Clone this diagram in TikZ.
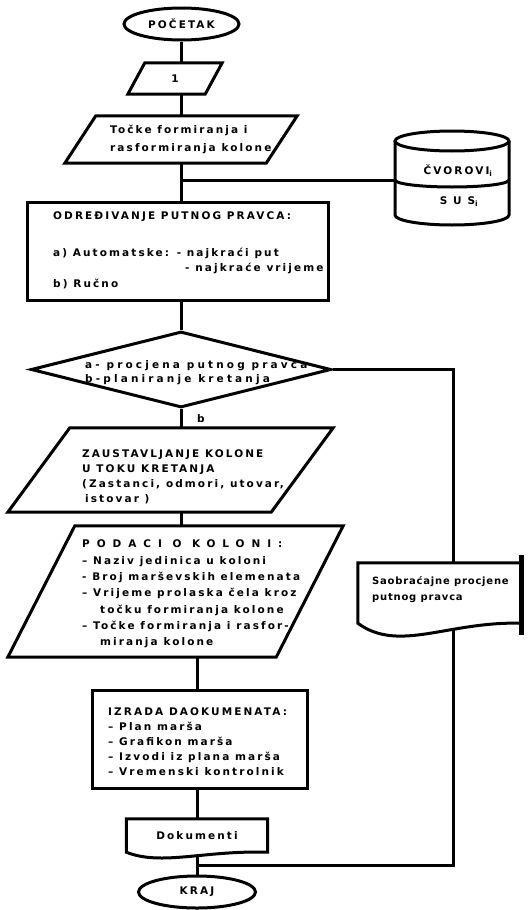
\documentclass[tikz,border=0pt]{standalone}
\usepackage{fontspec}
\setmainfont{DejaVu Sans}[LetterSpace=20]
\usetikzlibrary{shapes.geometric, backgrounds, calc}
\tikzset{every node/.style={font=\bfseries\fontsize{10.5}{15.5}\selectfont, inner sep=0pt}}
\tikzset{ %flowchart styles
    flowline/.style={line width=3pt},
    term/.style={ellipse, draw, line width=3pt, minimum height=32pt},
    proc/.style={rectangle, draw, line width=3pt},
    slot/.style={rectangle},
    decision/.style={diamond, draw, line width=3pt},
    txt/.style={anchor=west, align=left},
}
% parallelogram round node #1, slant #2
\newcommand{\ioframe}[2]{\draw[flowline] (#1.south west) -- ([xshift=#2pt]#1.north west) -- (#1.north east) -- ([xshift=-#2pt]#1.south east) -- cycle;}
% document round node #1, wave depth #2
\newcommand{\docframe}[2]{\filldraw[flowline, fill=white] (#1.south west) -- (#1.north west) -- (#1.north east) -- (#1.south east) .. controls ($(#1.south west)!0.55!(#1.south east)+(0,2pt)$) and ($(#1.south west)!0.25!(#1.south east)+(0,-#2pt)$) .. (#1.south west) -- cycle;}

\begin{document}
\begin{tikzpicture}[x=1pt, y=-1pt]
		\useasboundingbox (0,0) rectangle (529,910);
		\coordinate (axis) at (181,0);
		\coordinate (axisb) at (197,0);
		% main column
		\node[term, minimum width=115pt] (start) at (181.5,24) {POČETAK};
		\node[slot, minimum width=94pt, minimum height=31pt] (one) at (175,78.5) {1};
		\ioframe{one}{17}
		\node[slot, minimum width=232pt, minimum height=47pt] (tocke) at (181,139.5) {};
		\ioframe{tocke}{31}
		\node[txt, font=\bfseries\fontsize{10.5}{18.5}\selectfont] (tockeText) at (110,139.5) {Točke formiranja i\\rasformiranja kolone};
		\node[proc, minimum width=301pt, minimum height=98pt] (odr) at (177.5,251) {};
		\node[txt] (odrHead) at (53,217) {ODREĐIVANJE PUTNOG PRAVCA:};
		\node[txt] (odrA) at (53,253) {a) Automatske: - najkraći put};
		\node[txt] (odrA2) at (185,268.5) {- najkraće vrijeme};
		\node[txt] (odrB) at (53,284) {b) Ručno};
		\node[decision, minimum width=300pt, minimum height=76pt] (dec) at (181,369.5) {};
		\node[txt, font=\bfseries\fontsize{10.5}{14}\selectfont\addfontfeature{LetterSpace=30}] (decText) at (85,373) {a- procjena putnog pravca\\b-planiranje kretanja};
		\node (bLabel) at (201,419) {b};
		\node[slot, minimum width=325pt, minimum height=84pt] (zaus) at (170.5,470) {};
		\ioframe{zaus}{62}
		\node[txt, font=\bfseries\fontsize{10.5}{15}\selectfont] (zausText) at (82,476.5) {ZAUSTAVLJANJE KOLONE\\U TOKU KRETANJA\\(Zastanci, odmori, utovar,\\\hspace*{3pt}istovar )};
		\node[slot, minimum width=335pt, minimum height=131pt] (podaci) at (175.5,591.5) {};
		\ioframe{podaci}{67}
		\node[txt, font=\bfseries\fontsize{10.5}{16.3}\selectfont] (podaciText) at (82,594) {{\addfontfeature{LetterSpace=66}PODACI O KOLONI:}\\– Naziv jedinica u koloni\\- Broj marševskih elemenata\\– Vrijeme prolaska čela kroz\\\hspace*{18pt}točku formiranja kolone\\– Točke formiranja i rasfor-\\\hspace*{18pt}miranja kolone};
		\node[proc, minimum width=215pt, minimum height=98pt] (izrada) at (199.5,739) {};
		\node[txt, font=\bfseries\fontsize{10.5}{15}\selectfont] (izradaText) at (108,742) {IZRADA DAOKUMENATA:\\– Plan marša\\– Grafikon marša\\– Izvodi iz plana marša\\– Vremenski kontrolnik};
		\node[slot, minimum width=141pt, minimum height=33pt] (dok) at (197,835.5) {Dokumenti};
		\node[term, minimum width=117pt] (kraj) at (197,892) {KRAJ};
		% right side
		\node[slot, minimum width=163pt, minimum height=60pt] (saob) at (439.5,593) {};
		\node[txt, font=\bfseries\fontsize{10}{16}\selectfont\addfontfeature{LetterSpace=8}] (saobText) at (372,590) {Saobraćajne procjene\\putnog pravca};
		\draw[flowline] (452,141) ellipse [x radius=57, y radius=10];
		\draw[flowline] (395,141) -- (395,215) arc[start angle=180, end angle=0, x radius=57, y radius=10] -- (509,141);
		\draw[flowline] (395,180) arc[start angle=180, end angle=0, x radius=57, y radius=7];
		\node (cvor) at (458,171) {ČVOROVI\textsubscript{i}};
		\node (sus) at (459,202) {S U S\textsubscript{i}};
		\coordinate (jdb) at (181,180);
		\coordinate (dbleft) at (395,180);
		\coordinate (rb) at (453,865);
		\coordinate (jk) at (197,865);
		% connectors
		\begin{scope}[on background layer]
			\draw[flowline] (start.south -| axis) -- (axis |- one.north);
			\draw[flowline] (axis |- one.south) -- (axis |- tocke.north);
			\draw[flowline] (axis |- tocke.south) -- (axis |- odr.north);
			\draw[flowline] (jdb) -- (dbleft);
			\draw[flowline] (axis |- odr.south) -- (dec.north);
			\draw[flowline] (dec.south) -- (axis |- zaus.north);
			\draw[flowline] (axis |- zaus.south) -- (axis |- podaci.north);
			\draw[flowline] (axisb |- podaci.south) -- (axisb |- izrada.north);
			\draw[flowline] (axisb |- izrada.south) -- (dok.north);
			\draw[flowline] (dok.south) -- (kraj.north);
			\draw[flowline] (dec.east) -| (saob.north -| rb);
			\draw[flowline] (saob.south -| rb) -- (rb) -- (jk);
			\docframe{saob}{30}
			\docframe{dok}{14}
			\draw[line width=5pt] ([yshift=8pt]saob.north east) -- ([yshift=-12pt]saob.south east);
		\end{scope}
	\end{tikzpicture}
\end{document}
